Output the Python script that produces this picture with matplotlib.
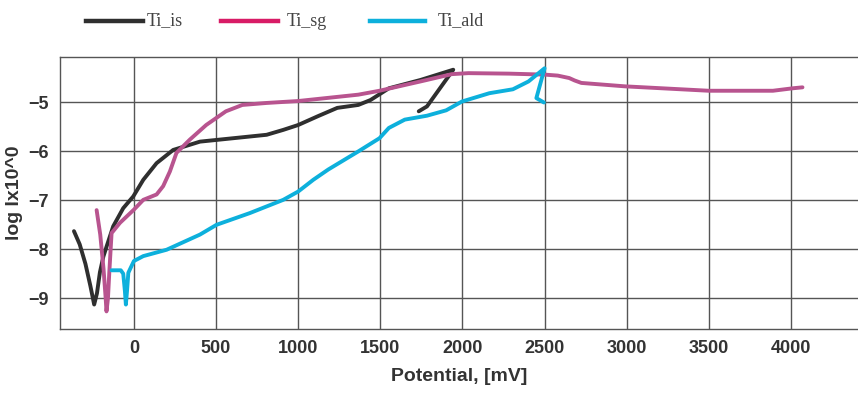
import matplotlib
matplotlib.use("Agg")
import matplotlib.pyplot as plt
from matplotlib.lines import Line2D

# ---- data ----
ti_is_x = [-365, -330, -295, -265, -242, -225, -207, -186, -166, -126, -65, -4, 57, 138, 239, 402,
           605, 808, 909, 1000, 1120, 1238, 1366, 1440, 1552, 1744, 1944, 1784, 1734]
ti_is_y = [-7.63, -7.9, -8.3, -8.75, -9.13, -8.9, -8.47, -8.15, -7.94, -7.53, -7.16, -6.92, -6.58,
           -6.24, -5.97, -5.80, -5.73, -5.66, -5.56, -5.46, -5.28, -5.11, -5.05, -4.95, -4.71,
           -4.54, -4.33, -5.08, -5.18]

ti_sg_x = [-227, -205, -185, -172, -167, -158, -150, -140, -136, -85, 0, 57, 138, 178, 219, 259,
           340, 440, 560, 660, 805, 1000, 1366, 1495, 1744, 1936, 2036, 2283, 2500, 2580, 2650,
           2683, 2724, 2990, 3500, 3890, 4010, 4070]
ti_sg_y = [-7.20, -7.7, -8.4, -9.0, -9.27, -9.0, -8.48, -7.9, -7.67, -7.46, -7.19, -6.99, -6.88,
           -6.71, -6.41, -6.03, -5.76, -5.46, -5.18, -5.05, -5.01, -4.97, -4.84, -4.76, -4.57,
           -4.42, -4.40, -4.41, -4.43, -4.45, -4.50, -4.55, -4.60, -4.67, -4.76, -4.76, -4.71,
           -4.69]

ti_ald_x = [-136, -80, -65, -55, -49, -42, -34, 0, 57, 199, 402, 503, 706, 909, 1000, 1092, 1183,
            1366, 1495, 1552, 1649, 1784, 1901, 1997, 2164, 2307, 2402, 2500, 2450, 2496]
ti_ald_y = [-8.43, -8.43, -8.5, -8.85, -9.13, -8.85, -8.48, -8.24, -8.14, -8.01, -7.70, -7.50,
            -7.26, -6.99, -6.82, -6.58, -6.37, -6.00, -5.73, -5.52, -5.35, -5.27, -5.16, -4.98,
            -4.81, -4.73, -4.57, -4.30, -4.91, -5.00]

series_names = ["Ti_is", "Ti_sg", "Ti_ald"]
line_colors = ["#2f2f2f", "#b8548f", "#0db0dc"]
legend_colors = ["#2f2f2f", "#d81b66", "#0db0dc"]
x_ticks = [0, 500, 1000, 1500, 2000, 2500, 3000, 3500, 4000]
y_ticks = [-9, -8, -7, -6, -5]

sans = ["Liberation Sans", "DejaVu Sans"]

fig = plt.figure(figsize=(8.58, 3.94), dpi=100)
ax = fig.add_axes([60/858, (394-329)/394, 1 - 60/858, (329-57)/394])

for xs, ys, c in zip([ti_is_x, ti_sg_x, ti_ald_x], [ti_is_y, ti_sg_y, ti_ald_y], line_colors):
    ax.plot(xs, ys, color=c, lw=2.8, solid_capstyle="round", solid_joinstyle="round", zorder=3)

ax.set_xlim(-450, 4408)
ax.set_ylim(-9.63, -4.07)
ax.set_xticks(x_ticks)
ax.set_yticks(y_ticks)
ax.grid(True, color="#555555", lw=1.0)
ax.tick_params(length=0, pad=8)
for lab in ax.get_xticklabels() + ax.get_yticklabels():
    lab.set_fontfamily(sans)
    lab.set_fontweight("bold")
    lab.set_fontsize(13)
    lab.set_color("#333333")
for s in ["left", "bottom", "top"]:
    ax.spines[s].set_color("#555555")
    ax.spines[s].set_linewidth(1.0)
ax.spines["right"].set_visible(False)

ax.set_xlabel("Potential, [mV]", family=sans, fontweight="bold", fontsize=14, color="#333333", labelpad=8)
ax.set_ylabel("log Ix10^0", family=sans, fontweight="bold", fontsize=14,
              color="#333333", labelpad=4)

# legend (manual)
leg_line_x = [(86, 143), (221, 278), (370, 425)]
leg_text_x = [147, 287, 438]
ly = 1 - 21/394
for (x0, x1), tx, name, c in zip(leg_line_x, leg_text_x, series_names, legend_colors):
    fig.add_artist(Line2D([x0/858, x1/858], [ly, ly], color=c, lw=3.2, transform=fig.transFigure))
    fig.text(tx/858, ly, name, family=["Liberation Serif", "DejaVu Serif"], fontsize=13,
             color="#444444", va="center", ha="left")

fig.savefig("out.png", dpi=100)
